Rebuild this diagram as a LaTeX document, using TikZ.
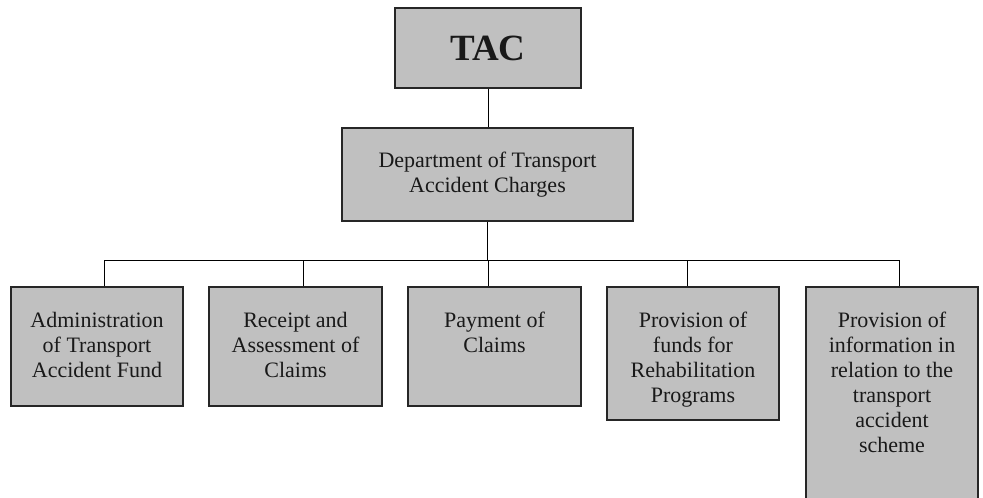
\documentclass[tikz,border=0pt]{standalone}
\usepackage{fontspec}
\setmainfont{Liberation Serif}
\definecolor{boxgray}{HTML}{C0C0C0}
\begin{document}
\begin{tikzpicture}[x=1pt,y=-1pt,
  box/.style={draw=black!85, line width=1.1pt, fill=boxgray, inner sep=0pt},
  lbl/.style={font=\fontsize{22}{25}\selectfont, align=center, inner sep=0pt, text=black!90},
  link/.style={draw=black, line width=1pt}]
\useasboundingbox (0,0) rectangle (983,498);
% top boxes
\node[box, minimum width=186pt, minimum height=80pt,
      font=\fontsize{37}{40}\selectfont\bfseries, text=black!90] (tac) at (488,48) {TAC};
\node[box, lbl, minimum width=291pt, minimum height=93pt] (dept) at (487.5,174.5)
  {Department of Transport\\Accident Charges};
% bottom boxes
\node[box, minimum width=172pt, minimum height=119pt] (b1) at (97,346.5) {};
\node[box, minimum width=173pt, minimum height=119pt] (b2) at (295.5,346.5) {};
\node[box, minimum width=173pt, minimum height=119pt] (b3) at (494.5,346.5) {};
\node[box, minimum width=172pt, minimum height=133pt] (b4) at (693,353.5) {};
\node[box, minimum width=172pt, minimum height=223pt] (b5) at (892,398.5) {};
% texts
\node[lbl, anchor=north] (t1) at ([yshift=-23pt]b1.north) {\strut Administration\\of Transport\\Accident Fund};
\node[lbl, anchor=north] (t2) at ([yshift=-23pt]b2.north) {\strut Receipt and\\Assessment of\\Claims};
\node[lbl, anchor=north] (t3) at ([yshift=-23pt]b3.north) {\strut Payment of\\Claims};
\node[lbl, anchor=north] (t4) at ([yshift=-23pt]b4.north) {\strut Provision of\\funds for\\Rehabilitation\\Programs};
\node[lbl, anchor=north] (t5) at ([yshift=-23pt]b5.north) {\strut Provision of\\information in\\relation to the\\transport\\accident\\scheme};
% bus coordinates
\coordinate (j1) at (104,260);
\coordinate (j2) at (303,260);
\coordinate (j3) at (488,260);
\coordinate (j4) at (687,260);
\coordinate (j5) at (899,260);
% connectors
\draw[link] (tac.south) -- (tac.south |- dept.north);
\draw[link] (dept.south) -- (dept.south |- j3);
\draw[link] (j1) -- (j5);
\foreach \i in {1,...,5} {
  \draw[link] (j\i) -- (j\i |- b\i.north);
}
\end{tikzpicture}
\end{document}
